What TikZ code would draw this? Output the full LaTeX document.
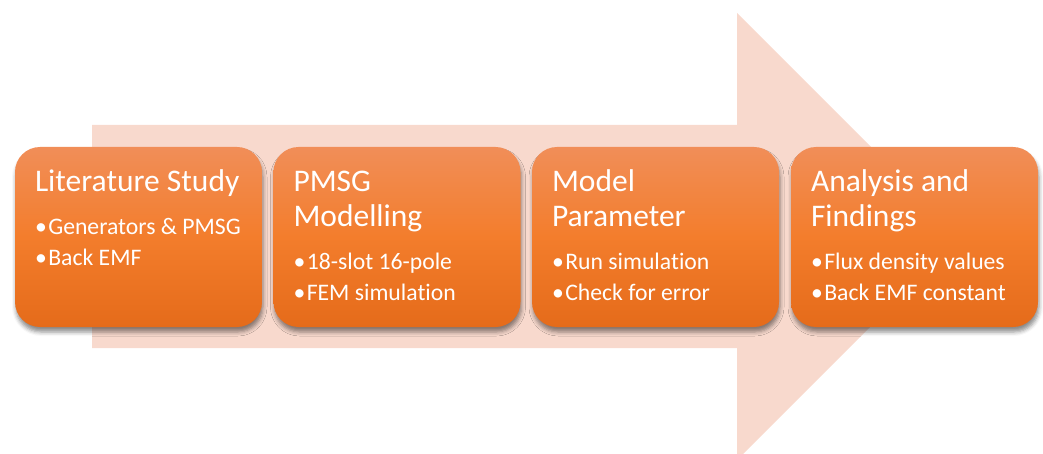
\documentclass[tikz,border=0pt]{standalone}
\usepackage{fontspec}
\setmainfont[Ligatures={NoCommon,NoContextual}]{Carlito}
\usetikzlibrary{shadows.blur,positioning}
\definecolor{arrowfill}{RGB}{248,217,205}
\definecolor{boxtop}{RGB}{241,142,88}
\definecolor{boxmid}{RGB}{243,125,44}
\definecolor{boxbot}{RGB}{229,107,26}
\tikzset{
  stagebox/.style={rounded corners=25pt, minimum width=247pt, minimum height=180pt,
    top color=boxtop, bottom color=boxbot, middle color=boxmid, draw=none, inner sep=0pt,
    blur shadow={shadow xshift=1pt, shadow yshift=-5pt, shadow blur radius=4pt, shadow opacity=45}},
  titletext/.style={text=white, font=\fontsize{31.5}{35}\selectfont, anchor=base west, inner sep=0pt},
  bullettext/.style={text=white, font=\fontsize{23.7}{31}\selectfont, anchor=base west, inner sep=0pt},
}
\begin{document}
\begin{tikzpicture}[x=1pt,y=-1pt]
\useasboundingbox (0,0) rectangle (1043,454);
\begin{scope}
\clip (0,0) rectangle (1043,454);
\fill[arrowfill] (92,125) -- (737,125) -- (737,13) -- (960.5,236.5) -- (737,460) -- (737,348) -- (92,348) -- cycle;
\end{scope}
% boxes
\node[stagebox] (b1) at (138.5,237) {};
\node[stagebox] (b2) at (397,237) {};
\node[stagebox] (b3) at (655.5,237) {};
\node[stagebox] (b4) at (914.5,237) {};
% box 1
\node[titletext] (t1a) at ([xshift=20pt,yshift=-45pt]b1.north west) {Literature Study};
\node[bullettext] (p1a) at ([xshift=20pt,yshift=-88pt]b1.north west) {•\hspace{1.5pt}Generators \& PMSG};
\node[bullettext] (p1b) at ([xshift=20pt,yshift=-119pt]b1.north west) {•\hspace{1.5pt}Back EMF};
% box 2
\node[titletext] (t2a) at ([xshift=20pt,yshift=-45pt]b2.north west) {PMSG};
\node[titletext] (t2b) at ([xshift=20pt,yshift=-80pt]b2.north west) {Modelling};
\node[bullettext] (p2a) at ([xshift=20pt,yshift=-123pt]b2.north west) {•\hspace{1.5pt}18-slot 16-pole};
\node[bullettext] (p2b) at ([xshift=20pt,yshift=-154pt]b2.north west) {•\hspace{1.5pt}FEM simulation};
% box 3
\node[titletext] (t3a) at ([xshift=20pt,yshift=-45pt]b3.north west) {Model};
\node[titletext] (t3b) at ([xshift=20pt,yshift=-80pt]b3.north west) {Parameter};
\node[bullettext] (p3a) at ([xshift=20pt,yshift=-123pt]b3.north west) {•\hspace{1.5pt}Run simulation};
\node[bullettext] (p3b) at ([xshift=20pt,yshift=-154pt]b3.north west) {•\hspace{1.5pt}Check for error};
% box 4
\node[titletext] (t4a) at ([xshift=20pt,yshift=-45pt]b4.north west) {Analysis and};
\node[titletext] (t4b) at ([xshift=20pt,yshift=-80pt]b4.north west) {Findings};
\node[bullettext] (p4a) at ([xshift=20pt,yshift=-123pt]b4.north west) {•\hspace{1.5pt}Flux density values};
\node[bullettext] (p4b) at ([xshift=20pt,yshift=-154pt]b4.north west) {•\hspace{1.5pt}Back EMF constant};
\end{tikzpicture}
\end{document}
